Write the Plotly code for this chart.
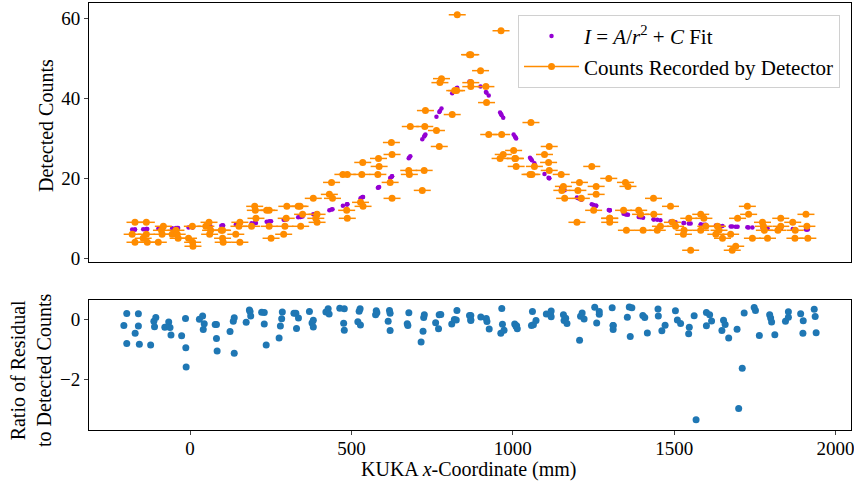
import plotly.graph_objects as go

# KUKA x-coordinate of each measurement (mm)
x_mm = [
    -205, -196, -196,
    -170, -160, -160, -157,
    -122, -112, -110, -106,
    -78, -66, -62, -59,
    -26, -14, -13, -12,
    29, 39, 41, 44,
    78, 82, 82, 84,
    124, 134, 137, 137,
    174, 184, 186, 188,
    222, 230, 230, 236,
    276, 280, 284, 286,
    322, 328, 330, 336,
    370, 378, 382, 382,
    421, 428, 431,
    464, 476, 478, 478,
    520, 524, 527, 528,
    575, 577, 579,
    614, 618, 620, 620,
    673, 675, 678,
    716, 722, 724, 726,
    761, 770, 772, 777,
    811, 819, 825, 827,
    866, 870, 870, 870,
    901, 918, 920, 927,
    963, 966, 968, 973,
    1006, 1010, 1012, 1014,
    1058, 1061, 1064, 1072,
    1104, 1117, 1119, 1119,
    1157, 1159, 1164, 1168,
    1207, 1210, 1215, 1221,
    1254, 1260, 1268, 1268,
    1308, 1311, 1311, 1311,
    1355, 1361, 1364, 1369,
    1403, 1409, 1417,
    1450, 1451, 1462, 1472,
    1504, 1510, 1520,
    1545, 1547, 1562, 1568,
    1600, 1600, 1610, 1616,
    1648, 1653, 1658, 1669,
    1695, 1700, 1711, 1717,
    1748, 1752, 1764,
    1796, 1799, 1802, 1812,
    1845, 1854, 1854,
    1892, 1899, 1900,
    1934, 1937, 1940,
]

# counts recorded by the detector
counts = [
    6, 9, 4,
    5, 9, 6, 4,
    4, 7, 6, 8,
    6, 7, 6, 5,
    5, 8, 4, 3,
    8, 9, 6, 7,
    7, 7, 5, 4,
    6, 8, 9, 4,
    8, 13, 12, 10,
    12, 12, 8, 5,
    6, 8, 10, 13,
    13, 13, 8, 11,
    15, 10, 11, 9,
    16, 19, 15,
    21, 12, 21, 10,
    14, 21, 24, 13,
    21, 25, 23,
    19, 29, 26, 15,
    22, 21, 33,
    17, 22, 33, 37,
    32, 28, 44, 45,
    36, 42, 42, 61,
    51, 51, 44, 43,
    47, 43, 39, 31,
    25, 57, 31, 26,
    27, 25, 25, 23,
    21, 34, 21, 23,
    26, 24, 28, 22,
    21, 17, 18, 15,
    9, 17, 19, 15,
    23, 12, 18, 16,
    20, 10, 10, 9,
    12, 19, 7, 18,
    12, 11, 7,
    15, 11, 7, 8,
    13, 9, 8,
    6, 7, 10, 2,
    11, 7, 10, 8,
    6, 8, 7, 5,
    6, 2, 3, 10,
    13, 11, 5,
    9, 8, 7, 5,
    7, 8, 10,
    9, 5, 7,
    11, 8, 5,
]

fit_counts = [
    7.19, 7.21, 7.21,
    7.27, 7.30, 7.30, 7.31,
    7.40, 7.42, 7.43, 7.44,
    7.52, 7.56, 7.57, 7.58,
    7.70, 7.74, 7.75, 7.75,
    7.92, 7.96, 7.97, 7.98,
    8.15, 8.17, 8.17, 8.18,
    8.41, 8.47, 8.49, 8.49,
    8.74, 8.82, 8.83, 8.85,
    9.13, 9.20, 9.20, 9.26,
    9.67, 9.72, 9.77, 9.79,
    10.25, 10.33, 10.36, 10.45,
    11.00, 11.14, 11.22, 11.22,
    12.02, 12.18, 12.25,
    13.12, 13.48, 13.54, 13.54,
    15.03, 15.19, 15.31, 15.35,
    17.63, 17.74, 17.85,
    20.08, 20.36, 20.51, 20.51,
    25.06, 25.26, 25.56,
    29.78, 30.51, 30.75, 31.00,
    35.47, 36.62, 36.87, 37.50,
    41.36, 42.09, 42.59, 42.74,
    44.25, 44.23, 44.23, 44.23,
    43.02, 41.64, 41.45, 40.75,
    36.49, 36.11, 35.85, 35.21,
    31.00, 30.51, 30.26, 30.02,
    25.16, 24.86, 24.57, 23.81,
    21.11, 20.15, 20.01, 20.01,
    17.63, 17.52, 17.25, 17.04,
    15.23, 15.11, 14.91, 14.68,
    13.54, 13.36, 13.12, 13.12,
    12.09, 12.02, 12.02, 12.02,
    11.12, 11.02, 10.96, 10.88,
    10.35, 10.26, 10.15,
    9.74, 9.73, 9.61, 9.50,
    9.19, 9.13, 9.04,
    8.84, 8.82, 8.71, 8.67,
    8.46, 8.46, 8.40, 8.36,
    8.18, 8.16, 8.13, 8.07,
    7.95, 7.93, 7.88, 7.86,
    7.74, 7.72, 7.68,
    7.57, 7.56, 7.55, 7.52,
    7.42, 7.40, 7.40,
    7.30, 7.28, 7.28,
    7.20, 7.19, 7.19,
]

x_err_mm = 27

# ratio of residual to detected counts
ratio = [(c - f) / c for c, f in zip(counts, fit_counts)]

FONT = "Liberation Serif"
ORANGE = "#FF8C00"
PURPLE = "#9400D3"
BLUE = "#1f77b4"

fig = go.Figure()

fig.add_trace(go.Scatter(
    x=x_mm, y=fit_counts, mode="markers",
    marker=dict(color=PURPLE, size=4.5),
    name="<i>I</i> = <i>A</i>/<i>r</i><sup>2</sup> + <i>C</i> Fit",
    xaxis="x", yaxis="y",
))
fig.add_trace(go.Scatter(
    x=x_mm, y=counts, mode="markers",
    marker=dict(color=ORANGE, size=7),
    error_x=dict(type="constant", value=x_err_mm, width=0, thickness=1.5, color=ORANGE),
    showlegend=False, xaxis="x", yaxis="y",
))
fig.add_trace(go.Scatter(
    x=[None], y=[None], mode="lines+markers",
    line=dict(color=ORANGE, width=1.5),
    marker=dict(color=ORANGE, size=7),
    name="Counts Recorded by Detector",
    xaxis="x", yaxis="y",
))
fig.add_trace(go.Scatter(
    x=x_mm, y=ratio, mode="markers",
    marker=dict(color=BLUE, size=7),
    showlegend=False, xaxis="x2", yaxis="y2",
))

axis_common = dict(showline=True, linecolor="black", linewidth=1, mirror=True,
                   showgrid=False, zeroline=False, automargin=False,
                   ticklabeloverflow="allow",
                   tickfont=dict(family=FONT, size=19, color="black"))

fig.update_layout(
    template="none",
    width=854, height=487,
    margin=dict(l=89, r=3, t=3, b=57, autoexpand=False),
    plot_bgcolor="white", paper_bgcolor="white",
    font=dict(family=FONT, size=20, color="black"),
    xaxis=dict(domain=[0, 1], anchor="y", range=[-342, 2077],
               ticks="", showticklabels=False, **axis_common),
    yaxis=dict(domain=[0.3934, 1], anchor="x", range=[-0.95, 63.95],
               tickvals=[0, 20, 40, 60], ticks="outside", ticklen=4, tickwidth=1,
               **axis_common),
    xaxis2=dict(domain=[0, 1], anchor="y2", range=[-313, 2048],
                tickvals=[0, 500, 1000, 1500, 2000], ticks="outside", ticklen=4,
                tickwidth=1, ticklabelstandoff=-3, **axis_common),
    yaxis2=dict(domain=[0, 0.3044], anchor="x2", range=[-3.68, 0.65],
                tickvals=[-2, 0], ticks="outside", ticklen=4, tickwidth=1,
                **axis_common),
    legend=dict(x=0.9856, y=0.972, xanchor="right", yanchor="top",
                bgcolor="rgba(255,255,255,0.8)", bordercolor="#d0d0d0", borderwidth=1,
                font=dict(family=FONT, size=21), itemwidth=55, tracegroupgap=4),
    showlegend=True,
    annotations=[
        dict(text="Detected Counts", xref="paper", yref="paper",
             x=-0.0565, y=(430 - 125) / 427, xanchor="center", yanchor="middle",
             textangle=-90, showarrow=False, font=dict(family=FONT, size=20)),
        dict(text="Ratio of Residual<br>to Detected Counts", xref="paper", yref="paper",
             x=(31 - 89) / 762, y=(430 - 370) / 427, xanchor="center", yanchor="middle",
             textangle=-90, showarrow=False, font=dict(family=FONT, size=20)),
        dict(text="KUKA <i>x</i>-Coordinate (mm)", xref="paper", yref="paper",
             x=(469 - 89) / 762, y=(430 - 469) / 427, xanchor="center", yanchor="middle",
             showarrow=False, font=dict(family=FONT, size=20)),
    ],
)

fig.write_html(
    "out.html",
    config={"displayModeBar": False},
    post_script="document.body.style.margin='0';document.body.style.padding='0';",
)
